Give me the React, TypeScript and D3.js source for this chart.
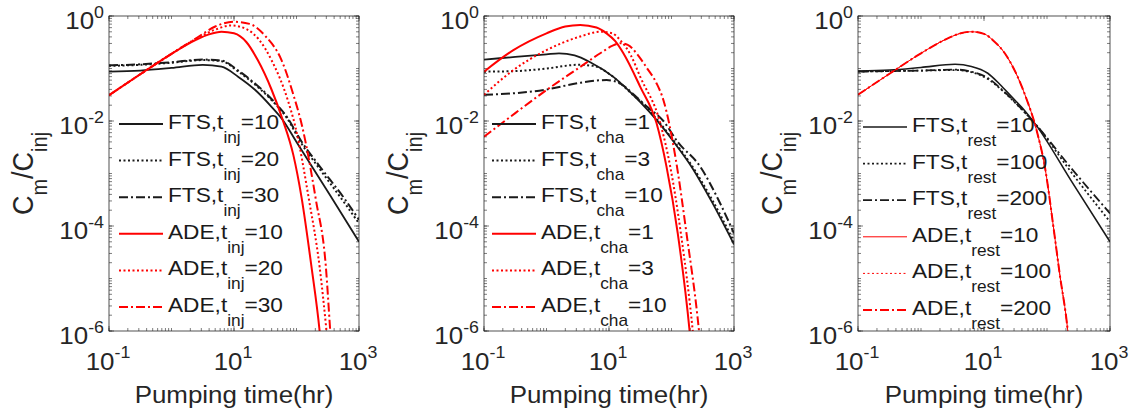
import React from "react";
import * as d3 from "d3";

type P = [number, number]; // [log10(t, hr), log10(Cm/Cinj)]

const xTickExps = [-1, 1, 3];
const yTickExps = [0, -2, -4, -6];
const xAxisLabel = "Pumping time(hr)";

// ---------- Panel 1 : t_inj ----------
const p1FtsInj10: P[] = [[-1, -1.06], [-0.5, -1.04], [0, -0.99], [0.5, -0.93], [0.8, -0.965], [1.07, -1.16], [1.34, -1.41], [1.6, -1.73], [1.78, -1.98], [2.0, -2.4], [2.54, -3.42], [3, -4.3]];
const p1FtsInj20: P[] = [[-1, -0.95], [-0.5, -0.93], [0, -0.89], [0.5, -0.84], [0.8, -0.86], [1.07, -1.06], [1.34, -1.31], [1.6, -1.6], [1.85, -1.95], [2.08, -2.43], [2.35, -2.88], [2.78, -3.58], [3, -3.95]];
const p1FtsInj30: P[] = [[-1, -0.94], [-0.5, -0.92], [0, -0.88], [0.5, -0.83], [0.8, -0.85], [1.07, -1.04], [1.34, -1.29], [1.6, -1.58], [1.85, -1.93], [2.08, -2.39], [2.35, -2.83], [2.78, -3.5], [3, -3.88]];
const p1AdeInj10: P[] = [[-1, -1.51], [-0.5, -1.11], [0, -0.72], [0.4, -0.45], [0.6, -0.35], [0.8, -0.3], [1.0, -0.33], [1.2, -0.5], [1.38, -0.84], [1.6, -1.4], [1.78, -1.98], [1.95, -2.65], [2.08, -3.45], [2.24, -4.78], [2.37, -6], [2.41, -6.5]];
const p1AdeInj20: P[] = [[-1, -1.51], [-0.5, -1.11], [0, -0.72], [0.4, -0.43], [0.7, -0.26], [0.95, -0.18], [1.2, -0.25], [1.4, -0.45], [1.6, -0.84], [1.86, -1.6], [1.98, -2.1], [2.2, -3.5], [2.37, -4.78], [2.48, -6], [2.52, -6.5]];
const p1AdeInj30: P[] = [[-1, -1.51], [-0.5, -1.11], [0, -0.72], [0.4, -0.42], [0.7, -0.2], [1.0, -0.11], [1.25, -0.15], [1.5, -0.38], [1.76, -0.84], [1.95, -1.5], [2.09, -2.1], [2.31, -3.5], [2.47, -4.78], [2.54, -6], [2.57, -6.5]];

// ---------- Panel 2 : t_cha ----------
const p2FtsCha1: P[] = [[-1, -0.83], [-0.5, -0.78], [0, -0.73], [0.2, -0.71], [0.45, -0.75], [0.7, -0.88], [1.07, -1.16], [1.34, -1.45], [1.5, -1.64], [1.76, -1.98], [2.05, -2.42], [2.32, -2.87], [2.65, -3.55], [3, -4.35]];
const p2FtsCha3: P[] = [[-1, -1.06], [-0.5, -1.05], [0, -1.0], [0.5, -0.93], [0.75, -0.95], [1.0, -1.1], [1.2, -1.3], [1.4, -1.52], [1.5, -1.62], [1.76, -1.96], [2.05, -2.4], [2.32, -2.84], [2.65, -3.5], [3, -4.3]];
const p2FtsCha10: P[] = [[-1, -1.5], [-0.5, -1.47], [0, -1.4], [0.5, -1.28], [0.96, -1.22], [1.2, -1.3], [1.4, -1.5], [1.6, -1.72], [1.87, -2.0], [2.1, -2.4], [2.46, -2.87], [2.75, -3.5], [3, -4.14]];
const p2AdeCha1: P[] = [[-1, -1.06], [-0.53, -0.65], [0, -0.33], [0.3, -0.2], [0.54, -0.17], [0.8, -0.22], [0.96, -0.33], [1.1, -0.48], [1.23, -0.71], [1.5, -1.35], [1.76, -2.04], [1.92, -2.87], [2.1, -4.14], [2.29, -6], [2.33, -6.5]];
const p2AdeCha3: P[] = [[-1, -1.5], [-0.53, -1.03], [0, -0.65], [0.54, -0.39], [0.86, -0.3], [1.05, -0.33], [1.18, -0.46], [1.35, -0.75], [1.5, -1.16], [1.82, -2.04], [1.98, -2.87], [2.15, -4.14], [2.34, -6], [2.38, -6.5]];
const p2AdeCha10: P[] = [[-1, -2.3], [-0.5, -1.85], [0, -1.41], [0.54, -0.97], [0.86, -0.71], [1.05, -0.57], [1.18, -0.52], [1.3, -0.55], [1.44, -0.71], [1.6, -0.98], [1.76, -1.28], [1.87, -1.6], [2.07, -2.74], [2.24, -4.14], [2.44, -6], [2.48, -6.5]];

// ---------- Panel 3 : t_rest ----------
const p3FtsRest10: P[] = [[-1, -1.05], [-0.5, -1.03], [0, -0.98], [0.54, -0.92], [0.8, -0.96], [1.06, -1.09], [1.25, -1.3], [1.44, -1.54], [1.63, -1.78], [1.81, -2.05], [2.4, -3.17], [3, -4.3]];
const p3FtsRest100: P[] = [[-1, -1.06], [-0.5, -1.05], [0, -1.04], [0.54, -1.03], [0.8, -1.07], [1.06, -1.2], [1.3, -1.43], [1.5, -1.66], [1.81, -2.05], [2.4, -3.0], [3, -3.92]];
const p3FtsRest200: P[] = [[-1, -1.06], [-0.5, -1.05], [0, -1.04], [0.54, -1.02], [0.8, -1.06], [1.06, -1.18], [1.3, -1.42], [1.5, -1.65], [1.81, -2.05], [2.4, -2.92], [3, -3.76]];
const p3AdeRest10: P[] = [[-1, -1.5], [-0.5, -1.1], [0, -0.71], [0.4, -0.44], [0.6, -0.34], [0.8, -0.3], [1.0, -0.34], [1.15, -0.47], [1.33, -0.71], [1.5, -1.07], [1.65, -1.5], [1.84, -2.2], [1.97, -2.9], [2.1, -4.0], [2.2, -4.9], [2.33, -6], [2.37, -6.5]];
const p3AdeRest100: P[] = p3AdeRest10; // coincides in the figure
const p3AdeRest200: P[] = p3AdeRest10; // coincides in the figure

// ---------- styles ----------
const RED = "#ff0000";
const BLK = "#1a1a1a";
const AX = "#262626";
const SOLID = "none";
const DOT = "2,2.5";
const DASHDOT = "9,3,2,3";
const FONT = "'Liberation Sans', Arial, Helvetica, sans-serif";

interface Series { kind: string; val: string; data: P[]; color: string; dash: string; width: number; }
interface Panel { left: number; width: number; sub: string; legX: number; legY: number; series: Series[]; }

const TOP = 16;
const BOTTOM = 331;

const panels: Panel[] = [
  {
    left: 109, width: 250, sub: "inj", legX: 10, legY: 124,
    series: [
      { kind: "FTS", val: "10", data: p1FtsInj10, color: BLK, dash: SOLID, width: 1.8 },
      { kind: "FTS", val: "20", data: p1FtsInj20, color: BLK, dash: DOT, width: 2 },
      { kind: "FTS", val: "30", data: p1FtsInj30, color: BLK, dash: DASHDOT, width: 2 },
      { kind: "ADE", val: "10", data: p1AdeInj10, color: RED, dash: SOLID, width: 2 },
      { kind: "ADE", val: "20", data: p1AdeInj20, color: RED, dash: DOT, width: 2 },
      { kind: "ADE", val: "30", data: p1AdeInj30, color: RED, dash: DASHDOT, width: 2 },
    ],
  },
  {
    left: 484, width: 250, sub: "cha", legX: 8, legY: 124,
    series: [
      { kind: "FTS", val: "1", data: p2FtsCha1, color: BLK, dash: SOLID, width: 1.8 },
      { kind: "FTS", val: "3", data: p2FtsCha3, color: BLK, dash: DOT, width: 2 },
      { kind: "FTS", val: "10", data: p2FtsCha10, color: BLK, dash: DASHDOT, width: 2 },
      { kind: "ADE", val: "1", data: p2AdeCha1, color: RED, dash: SOLID, width: 2 },
      { kind: "ADE", val: "3", data: p2AdeCha3, color: RED, dash: DOT, width: 2 },
      { kind: "ADE", val: "10", data: p2AdeCha10, color: RED, dash: DASHDOT, width: 2 },
    ],
  },
  {
    left: 858, width: 252, sub: "rest", legX: 5, legY: 127,
    series: [
      { kind: "FTS", val: "10", data: p3FtsRest10, color: BLK, dash: SOLID, width: 1.6 },
      { kind: "FTS", val: "100", data: p3FtsRest100, color: BLK, dash: DOT, width: 1.8 },
      { kind: "FTS", val: "200", data: p3FtsRest200, color: BLK, dash: DASHDOT, width: 1.8 },
      { kind: "ADE", val: "10", data: p3AdeRest10, color: RED, dash: SOLID, width: 1 },
      { kind: "ADE", val: "100", data: p3AdeRest100, color: RED, dash: DOT, width: 1 },
      { kind: "ADE", val: "200", data: p3AdeRest200, color: RED, dash: DASHDOT, width: 2 },
    ],
  },
];

const SX = 1.08; // horizontal text stretch of the source image
const LEG_ROW = 36.6;

function PanelView({ p, idx }: { p: Panel; idx: number }) {
  const x = d3.scaleLog().domain([0.1, 1000]).range([p.left, p.left + p.width]);
  const y = d3.scaleLog().domain([1e-6, 1]).range([BOTTOM, TOP]);
  const line = d3
    .line<P>()
    .x((d) => x(Math.pow(10, d[0])))
    .y((d) => y(Math.pow(10, d[1])))
    .curve(d3.curveMonotoneX);

  const xMinor: number[] = [];
  for (let e = -1; e < 3; e++) for (let k = 1; k < 10; k++) xMinor.push(k * Math.pow(10, e));
  xMinor.push(1000);
  const yMinor: number[] = [];
  for (let e = -6; e < 0; e++) for (let k = 1; k < 10; k++) yMinor.push(k * Math.pow(10, e));
  yMinor.push(1);
  const xMajor = xTickExps.map((e) => Math.pow(10, e));
  const yMajor = yTickExps.map((e) => Math.pow(10, e));
  const R = p.left + p.width;
  const clipId = `clip${idx}`;
  const cx = p.left + p.width / 2;
  const cy = (TOP + BOTTOM) / 2;

  return (
    <g>
      <defs>
        <clipPath id={clipId}>
          <rect x={p.left} y={TOP} width={p.width} height={BOTTOM - TOP} />
        </clipPath>
      </defs>
      {/* ticks */}
      <g stroke={AX} strokeWidth={0.6}>
        {xMinor.map((v, i) => (
          <g key={"xm" + i}>
            <line x1={x(v)} x2={x(v)} y1={BOTTOM} y2={BOTTOM - 3} />
            <line x1={x(v)} x2={x(v)} y1={TOP} y2={TOP + 3} />
          </g>
        ))}
        {yMinor.map((v, i) => (
          <g key={"ym" + i}>
            <line x1={p.left} x2={p.left + 3} y1={y(v)} y2={y(v)} />
            <line x1={R} x2={R - 3} y1={y(v)} y2={y(v)} />
          </g>
        ))}
        {xMajor.map((v, i) => (
          <g key={"xM" + i}>
            <line x1={x(v)} x2={x(v)} y1={BOTTOM} y2={BOTTOM - 5} />
            <line x1={x(v)} x2={x(v)} y1={TOP} y2={TOP + 5} />
          </g>
        ))}
        {yMajor.map((v, i) => (
          <g key={"yM" + i}>
            <line x1={p.left} x2={p.left + 5} y1={y(v)} y2={y(v)} />
            <line x1={R} x2={R - 5} y1={y(v)} y2={y(v)} />
          </g>
        ))}
      </g>
      {/* curves */}
      <g clipPath={`url(#${clipId})`} fill="none">
        {p.series.map((s, i) => (
          <path
            key={i}
            d={line(s.data) || ""}
            stroke={s.color}
            strokeWidth={s.width}
            strokeDasharray={s.dash === SOLID ? undefined : s.dash}
          />
        ))}
      </g>
      {/* box */}
      <rect x={p.left} y={TOP} width={p.width} height={BOTTOM - TOP} fill="none" stroke={AX} strokeWidth={0.8} />
      {/* tick labels */}
      <g fill={AX} fontFamily={FONT}>
        {yTickExps.map((e, i) => (
          <text key={"yl" + i} transform={`translate(${p.left - 5},${y(Math.pow(10, e)) + 13}) scale(${SX},1)`} textAnchor="end" fontSize={24}>
            <tspan>10</tspan>
            <tspan dy={-11} fontSize={16.5}>{String(e)}</tspan>
          </text>
        ))}
        {xTickExps.map((e, i) => (
          <text key={"xl" + i} transform={`translate(${x(Math.pow(10, e)) - 1},${BOTTOM + 39}) scale(${SX},1)`} textAnchor="middle" fontSize={24}>
            <tspan>10</tspan>
            <tspan dy={-12} fontSize={16.5}>{String(e)}</tspan>
          </text>
        ))}
        <text transform={`translate(${cx},${BOTTOM + 72}) scale(${SX},1)`} textAnchor="middle" fontSize={24}>
          {xAxisLabel}
        </text>
        <text transform={`translate(${p.left - 76},${cy}) scale(${SX},1) rotate(-90)`} textAnchor="middle" fontSize={27}>
          <tspan>C</tspan>
          <tspan dy={13} fontSize={20}>m</tspan>
          <tspan dy={-13}>/C</tspan>
          <tspan dy={13} fontSize={20}>inj</tspan>
        </text>
      </g>
      {/* legend */}
      <g fontFamily={FONT} fill={BLK}>
        {p.series.map((s, i) => {
          const ly = p.legY + i * LEG_ROW;
          const lx = p.left + p.legX;
          return (
            <g key={"lg" + i}>
              <line
                x1={lx}
                x2={lx + 44}
                y1={ly}
                y2={ly}
                stroke={s.color}
                strokeWidth={s.width}
                strokeDasharray={s.dash === SOLID ? undefined : s.dash}
              />
              <text transform={`translate(${lx + 49},${ly + 5}) scale(${SX},1)`} fontSize={21}>
                <tspan>{s.kind},t</tspan>
                <tspan dy={14} fontSize={16}>{p.sub}</tspan>
                <tspan dy={-14}>={s.val}</tspan>
              </text>
            </g>
          );
        })}
      </g>
    </g>
  );
}

export default function App() {
  return (
    <svg
      width={1139}
      height={415}
      viewBox="0 0 1139 415"
      style={{ position: "absolute", left: 0, top: 0, background: "#fff" }}
    >
      <rect x={0} y={0} width={1139} height={415} fill="#fff" />
      {panels.map((p, i) => (
        <PanelView key={i} p={p} idx={i} />
      ))}
    </svg>
  );
}
